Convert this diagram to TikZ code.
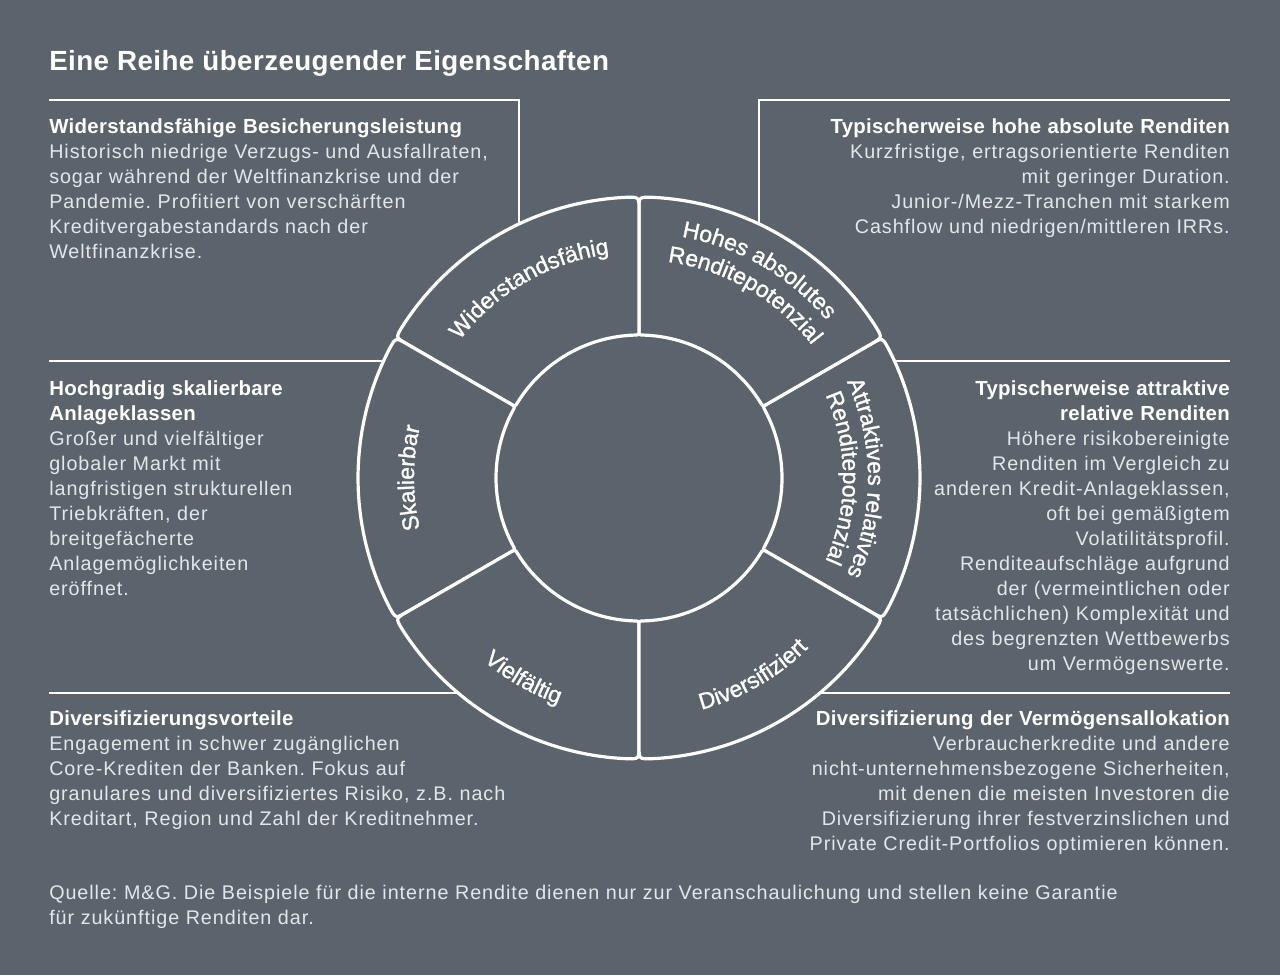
\documentclass[tikz,border=0pt]{standalone}
\usepackage{fontspec}
\setmainfont{Liberation Sans}
\newfontfamily\bodyfont[LetterSpace=4.8]{Liberation Sans}
\newfontfamily\headfont[LetterSpace=1.5]{Liberation Sans}
\newfontfamily\lblfam[FakeBold=1.2]{Liberation Sans}
\usetikzlibrary{decorations.text}
\definecolor{bg}{RGB}{91,100,108}
\definecolor{bodytext}{RGB}{228,231,233}
\newcommand\bodysize{\fontsize{14.8pt}{18.75pt}\selectfont}
\newcommand\hd[1]{{\headfont\bfseries\fontsize{15.3pt}{18.75pt}\selectfont\color{white}#1}}
\newcommand\lblfont{\lblfam\fontsize{17.2pt}{20pt}\selectfont}
\frenchspacing
\tikzset{
  txtL/.style={anchor=base west, inner sep=0pt, text width=430pt, align=left, font=\bodyfont\bodysize\frenchspacing, text=bodytext},
  txtR/.style={anchor=base east, inner sep=0pt, text width=430pt, align=right, font=\bodyfont\bodysize\frenchspacing, text=bodytext},
  frame/.style={draw=white, line width=2.2pt},
  seg/.style={draw=white, line width=2.4pt, fill=bg, line join=round},
  lbl/.style={decorate, decoration={text along path, text align=center, text={|\lblfont\color{white}|#1}}}
}
\begin{document}
\begin{tikzpicture}[x=0.75pt, y=0.75pt]
\fill[bg] (0,0) rectangle (1280,-975);
\useasboundingbox (0,0) rectangle (1280,-975);

% title
\node[anchor=base west, inner sep=0pt, text=white, font=\headfont\bfseries\fontsize{20.8pt}{25pt}\selectfont] (title) at (49,-70) {Eine Reihe überzeugender Eigenschaften};

% frame lines
\coordinate (f1a) at (49,-100);
\coordinate (f1b) at (519,-100);
\coordinate (f1c) at (519,-234);
\coordinate (f2a) at (1230,-100);
\coordinate (f2b) at (759,-100);
\coordinate (f2c) at (759,-234);
\coordinate (f3a) at (49,-361);
\coordinate (f3b) at (392,-361);
\coordinate (f4a) at (1230,-361);
\coordinate (f4b) at (884,-361);
\coordinate (f5a) at (49,-693);
\coordinate (f5b) at (467,-693);
\coordinate (f6a) at (1230,-693);
\coordinate (f6b) at (809,-693);
\draw[frame] (f1a) -- (f1b) -- (f1c);
\draw[frame] (f2a) -- (f2b) -- (f2c);
\draw[frame] (f3a) -- (f3b);
\draw[frame] (f4a) -- (f4b);
\draw[frame] (f5a) -- (f5b);
\draw[frame] (f6a) -- (f6b);

% ring
\begin{scope}[shift={(639,-478)}]
\foreach \a in {-30,30,90,150,210,270}{
  \pgfmathsetmacro\b{\a+60}
  \draw[seg] ({\a+2.5}:281) arc[start angle={\a+2.5}, end angle={\b-2.5}, radius=281]
     .. controls (\b:281) .. (\b:268) -- (\b:148)
     .. controls (\b:143) .. ({\b-2.0}:143)
     arc[start angle={\b-2.0}, end angle={\a+2.0}, radius=143]
     .. controls (\a:143) .. (\a:148) -- (\a:268)
     .. controls (\a:281) .. ({\a+2.5}:281) -- cycle;
}
\path[lbl=Widerstandsfähig] (150:226) arc[start angle=150, end angle=90, radius=226];
\path[lbl=Hohes absolutes] (90:245) arc[start angle=90, end angle=30, radius=245];
\path[lbl=Renditepotenzial] (90:218) arc[start angle=90, end angle=30, radius=218];
\path[lbl=Attraktives relatives] (30:229) arc[start angle=30, end angle=-30, radius=229];
\path[lbl=Renditepotenzial] (30:204) arc[start angle=30, end angle=-30, radius=204];
\path[lbl=Skalierbar] (210:225) arc[start angle=210, end angle=150, radius=225];
\path[lbl=Vielfältig] (210:240) arc[start angle=210, end angle=270, radius=240];
\path[lbl=Diversifiziert] (270:240) arc[start angle=270, end angle=330, radius=240];
\end{scope}

% text blocks
\node[txtL] (tl) at (49,-133) {\hd{Widerstandsfähige Besicherungsleistung}\\
Historisch niedrige Verzugs- und Ausfallraten,\\
sogar während der Weltfinanzkrise und der\\
Pandemie. Profitiert von verschärften\\
Kreditvergabestandards nach der\\
Weltfinanzkrise.};

\node[txtR] (tr) at (1230,-133) {\hd{Typischerweise hohe absolute Renditen}\\
Kurzfristige, ertragsorientierte Renditen\\
mit geringer Duration.\\
Junior-/Mezz-Tranchen mit starkem\\
Cashflow und niedrigen/mittleren IRRs.};

\node[txtL] (ml) at (49,-395) {\hd{Hochgradig skalierbare}\\
\hd{Anlageklassen}\\
Großer und vielfältiger\\
globaler Markt mit\\
langfristigen strukturellen\\
Triebkräften, der\\
breitgefächerte\\
Anlagemöglichkeiten\\
eröffnet.};

\node[txtR] (mr) at (1230,-395) {\hd{Typischerweise attraktive}\\
\hd{relative Renditen}\\
Höhere risikobereinigte\\
Renditen im Vergleich zu\\
anderen Kredit-Anlageklassen,\\
oft bei gemäßigtem\\
Volatilitätsprofil.\\
Renditeaufschläge aufgrund\\
der (vermeintlichen oder\\
tatsächlichen) Komplexität und\\
des begrenzten Wettbewerbs\\
um Vermögenswerte.};

\node[txtL] (bl) at (49,-725) {\hd{Diversifizierungsvorteile}\\
Engagement in schwer zugänglichen\\
Core-Krediten der Banken. Fokus auf\\
granulares und diversifiziertes Risiko, z.B. nach\\
Kreditart, Region und Zahl der Kreditnehmer.};

\node[txtR] (br) at (1230,-725) {\hd{Diversifizierung der Vermögensallokation}\\
Verbraucherkredite und andere\\
nicht-unternehmensbezogene Sicherheiten,\\
mit denen die meisten Investoren die\\
Diversifizierung ihrer festverzinslichen und\\
Private Credit-Portfolios optimieren können.};

\node[txtL, text width=900pt] (src) at (49,-899) {Quelle: M\&G. Die Beispiele für die interne Rendite dienen nur zur Veranschaulichung und stellen keine Garantie\\
für zukünftige Renditen dar.};
\end{tikzpicture}
\end{document}
